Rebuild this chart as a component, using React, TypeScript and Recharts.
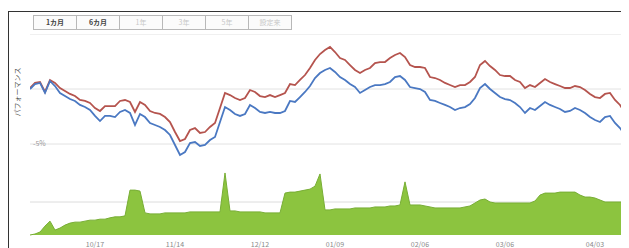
import { Area, AreaChart, CartesianGrid, Line, LineChart, XAxis, YAxis } from "recharts";

// performance in %, one point every ~5px of the original plot
const fundPerf = [
  0.09, 0.55, 0.64, -0.27, 0.82, 0.55, 0.09, -0.18, -0.45, -0.64,
  -1.0, -1.09, -1.27, -1.73, -2.0, -1.55, -1.55, -1.55, -1.09, -1.0,
  -1.18, -2.09, -1.18, -1.45, -2.0, -2.18, -2.27, -2.55, -3.0, -3.91,
  -4.73, -4.55, -3.73, -3.55, -4.0, -3.91, -3.45, -3.09, -1.73, -0.36,
  -0.55, -0.82, -1.0, -0.82, -0.09, -0.27, -0.64, -0.73, -0.55, -0.73,
  -0.55, -0.36, 0.45, 0.36, 0.82, 1.27, 1.91, 2.64, 3.18, 3.55,
  3.82, 3.36, 2.82, 2.64, 2.18, 1.73, 1.45, 1.73, 1.91, 2.36,
  2.45, 2.45, 2.82, 3.09, 3.27, 2.91, 2.18, 2.0, 2.0, 1.91,
  1.09, 1.0, 0.82, 0.55, 0.36, 0.18, 0.36, 0.36, 0.64, 1.09,
  2.18, 2.55, 2.09, 1.73, 1.27, 1.18, 1.18, 0.82, 0.64, 0.09,
  0.36, 0.18, 0.55, 0.91, 0.64, 0.45, 0.27, 0.09, 0.09, 0.27,
  0.18, -0.09, -0.45, -0.73, -0.82, -0.45, -0.36, -1.0, -1.45, -2.18,
];

const benchPerf = [
  0, 0.45, 0.55, -0.36, 0.73, 0.27, -0.36, -0.64, -0.91, -1.09,
  -1.45, -1.64, -1.91, -2.45, -2.91, -2.45, -2.45, -2.55, -2.09, -1.91,
  -2.18, -3.27, -2.27, -2.55, -3.09, -3.27, -3.45, -3.73, -4.18, -5.09,
  -6.0, -5.73, -4.91, -4.82, -5.18, -5.09, -4.64, -4.36, -3.0, -1.64,
  -1.91, -2.27, -2.45, -2.27, -1.45, -1.73, -2.09, -2.18, -2.09, -2.18,
  -2.18, -2.0, -1.09, -1.18, -0.73, -0.27, 0.27, 1.0, 1.45, 1.73,
  1.91, 1.55, 1.09, 0.82, 0.45, 0.18, -0.36, -0.09, 0.18, 0.36,
  0.36, 0.45, 0.64, 1.09, 1.18, 0.82, 0.18, 0.09, 0, -0.27,
  -1.0, -1.09, -1.27, -1.45, -1.64, -1.91, -1.73, -1.64, -1.36, -0.82,
  0.09, 0.45, 0, -0.36, -0.73, -0.91, -1.0, -1.27, -1.64, -2.18,
  -1.73, -1.91, -1.55, -1.18, -1.45, -1.64, -1.82, -2.09, -2.0, -1.73,
  -1.91, -2.18, -2.55, -2.82, -3.0, -2.55, -2.45, -3.09, -3.55, -4.18,
];

// lower panel (no scale shown)
const assets = [
  0, 0.03, 0.09, 0.27, 0.42, 0.15, 0.21, 0.3, 0.36, 0.39,
  0.39, 0.42, 0.45, 0.45, 0.48, 0.48, 0.52, 0.55, 0.55, 0.58,
  1.36, 1.36, 1.33, 0.67, 0.64, 0.64, 0.64, 0.67, 0.67, 0.67,
  0.67, 0.67, 0.7, 0.7, 0.7, 0.7, 0.7, 0.7, 0.7, 1.88,
  0.73, 0.73, 0.7, 0.7, 0.7, 0.7, 0.7, 0.67, 0.67, 0.67,
  0.67, 1.27, 1.3, 1.3, 1.33, 1.36, 1.39, 1.48, 1.85, 0.76,
  0.76, 0.79, 0.79, 0.79, 0.79, 0.82, 0.82, 0.82, 0.82, 0.85,
  0.85, 0.85, 0.88, 0.88, 0.91, 1.61, 0.91, 0.91, 0.91, 0.88,
  0.85, 0.82, 0.82, 0.82, 0.82, 0.82, 0.82, 0.85, 0.88, 0.97,
  1.06, 1.09, 1.0, 0.97, 0.97, 0.97, 0.97, 0.97, 0.97, 0.97,
  0.97, 1.03, 1.21, 1.27, 1.27, 1.27, 1.3, 1.3, 1.3, 1.3,
  1.21, 1.15, 1.15, 1.12, 1.06, 1.0, 1.0, 1.0, 1.0, 1.0,
];

const tickIdx = [13, 29, 46, 61, 78, 95, 113];
const tickLabels = ["10/17", "11/14", "12/12", "01/09", "02/06", "03/06", "04/03"];
const perfTicks = [5, 0, -5];
const assetTicks = [1];
const rangeButtons = ["1カ月", "6カ月", "1年", "3年", "5年", "設定来"];
const enabledButtons = 2;

const data = fundPerf.map((v, i) => ({ i, fund: v, bench: benchPerf[i], assets: assets[i] }));

const font = "'Noto Sans CJK JP', 'Noto Sans', sans-serif";
const lastIdx = fundPerf.length - 1;

export default function App() {
  return (
    <div style={{ position: "relative", width: 621, height: 240, fontFamily: font, background: "#fff" }}>
      <div style={{
        position: "absolute", left: 0, top: 3, width: 621, height: 237,
        borderTop: "1px solid #333", borderLeft: "1px solid #333", boxSizing: "border-box",
      }} />

      <div style={{ position: "absolute", left: 25, top: 7, display: "flex" }}>
        {rangeButtons.map((b, i) => (
          <div key={b} style={{
            width: 44, height: 15, boxSizing: "border-box", border: "1px solid #b8b8b8",
            marginLeft: i ? -1 : 0, background: "#fbfbfb", fontSize: 7, lineHeight: "13px",
            textAlign: "center", fontWeight: i < enabledButtons ? 700 : 400,
            color: i < enabledButtons ? "#444" : "#c8c8c8",
          }}>{b}</div>
        ))}
      </div>

      <div style={{
        position: "absolute", left: 9, top: 84, transform: "translate(-50%, -50%) rotate(-90deg)",
        fontSize: 7, color: "#555", whiteSpace: "nowrap",
      }}>パフォーマンス</div>

      <div style={{ position: "absolute", left: 22, top: 26 }}>
        <LineChart width={595} height={132} data={data} margin={{ top: 0, right: 0, bottom: 0, left: 0 }}>
          <CartesianGrid stroke="#e2e2e2" vertical={false} horizontalValues={perfTicks} />
          <XAxis dataKey="i" type="number" domain={[0, lastIdx]} hide />
          <YAxis type="number" domain={[-7, 5]} ticks={perfTicks} mirror axisLine={false} tickLine={false}
            tickSize={0} tickMargin={3} fontSize={7} stroke="#999"
            tickFormatter={(v: number) => (v === -5 ? "-5%" : "")} />
          <Line dataKey="fund" stroke="#b5544e" strokeWidth={1.8} dot={false} isAnimationActive={false} />
          <Line dataKey="bench" stroke="#4a78c2" strokeWidth={1.8} dot={false} isAnimationActive={false} />
        </LineChart>
      </div>

      <div style={{ position: "absolute", left: 22, top: 161 }}>
        <AreaChart width={595} height={79} data={data} margin={{ top: 0, right: 0, bottom: 0, left: 0 }}>
          <CartesianGrid stroke="#dcdcdc" vertical={false} horizontalValues={assetTicks} />
          <XAxis dataKey="i" type="number" domain={[0, lastIdx]} ticks={tickIdx} height={13}
            axisLine={false} tickLine={false} tickMargin={1} fontSize={7} stroke="#888"
            tickFormatter={(v: number) => tickLabels[tickIdx.indexOf(v)] ?? ""} />
          <YAxis type="number" domain={[0, 2]} ticks={assetTicks} mirror axisLine={false} tickLine={false}
            tickFormatter={() => ""} />
          <Area dataKey="assets" type="linear" stroke="#78ae35" strokeWidth={1} fill="#8cc43f"
            fillOpacity={1} isAnimationActive={false} />
        </AreaChart>
      </div>
    </div>
  );
}
